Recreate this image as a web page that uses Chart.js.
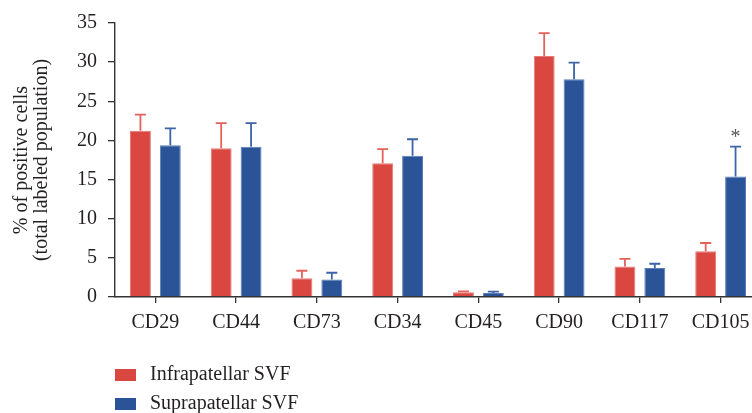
<!DOCTYPE html>
<html>
<head>
<meta charset="utf-8">
<script src="https://cdn.jsdelivr.net/npm/chart.js@4/dist/chart.umd.min.js"></script>
<style>
  html, body { margin: 0; padding: 0; background: #fff; overflow: hidden; }
  #chart-wrap { width: 752px; height: 413px; overflow: hidden; }
</style>
</head>
<body>
<div id="chart-wrap">
  <canvas id="chart-markers" width="770" height="413"></canvas>
</div>
<script>
const markers = ['CD29', 'CD44', 'CD73', 'CD34', 'CD45', 'CD90', 'CD117', 'CD105']
const infra_mean = [21.25, 19.0, 2.4, 17.1, 0.6, 30.8, 3.9, 5.85]
const infra_sem = [2.05, 3.2, 0.95, 1.8, 0.12, 2.9, 0.97, 1.05]
const supra_mean = [19.4, 19.2, 2.25, 18.05, 0.5, 27.8, 3.7, 15.4]
const supra_sem = [2.15, 3.0, 0.85, 2.1, 0.18, 2.15, 0.55, 3.8]
const significant = ['', '', '', '', '', '', '', '*']  // marks over the suprapatellar bar

const serif = "'Liberation Serif', 'DejaVu Serif', serif"
const text_color = '#231f20'
const axis_color = '#333333'

// upward error bars with caps, one per bar
const error_bars = {
  id: 'error_bars',
  afterDatasetsDraw(chart) {
    const ctx = chart.ctx
    const y = chart.scales.y
    chart.data.datasets.forEach((ds, i) => {
      const meta = chart.getDatasetMeta(i)
      ctx.save()
      ctx.strokeStyle = ds.errorColor
      ctx.lineWidth = 1.8
      meta.data.forEach((bar, j) => {
        const top = y.getPixelForValue(ds.data[j] + ds.sem[j])
        ctx.beginPath()
        ctx.moveTo(bar.x, bar.y)
        ctx.lineTo(bar.x, top)
        ctx.moveTo(bar.x - 5.5, top)
        ctx.lineTo(bar.x + 5.5, top)
        ctx.stroke()
        if (ds.marks && ds.marks[j]) {
          ctx.fillStyle = '#555'
          ctx.font = "20px " + serif
          ctx.textAlign = 'center'
          ctx.textBaseline = 'middle'
          ctx.fillText(ds.marks[j], bar.x, top - 9)
        }
      })
      ctx.restore()
    })
  }
}

// vertical legend under the axis
const stacked_legend = {
  id: 'stacked_legend',
  afterDraw(chart) {
    const ctx = chart.ctx
    ctx.save()
    ctx.font = "20px " + serif
    ctx.textBaseline = 'middle'
    ctx.textAlign = 'left'
    chart.data.datasets.forEach((ds, i) => {
      const cy = 375 + i * 29
      ctx.fillStyle = ds.backgroundColor
      ctx.fillRect(115, cy - 6, 21, 12)
      ctx.fillStyle = text_color
      ctx.fillText(ds.label, 150, cy)
    })
    ctx.restore()
  }
}

function make_chart(){
  const canvas = document.getElementById('chart-markers')
  return new Chart(canvas, {
    type: 'bar',
    data: {
      labels: markers,
      datasets: [
        {
          label: 'Infrapatellar SVF',
          data: infra_mean,
          sem: infra_sem,
          backgroundColor: '#da4640',
          borderColor: '#e67a74',
          borderWidth: {top: 1, left: 1, right: 1, bottom: 0},
          errorColor: '#e4625c',
        },
        {
          label: 'Suprapatellar SVF',
          data: supra_mean,
          sem: supra_sem,
          marks: significant,
          backgroundColor: '#2a5398',
          borderColor: '#5a7db8',
          borderWidth: {top: 1, left: 1, right: 1, bottom: 0},
          errorColor: '#3d63a8',
        },
      ]
    },
    options: {
      responsive: false,
      animation: false,
      categoryPercentage: 0.74,
      barPercentage: 0.70,
      layout: {
        padding: {left: 0, right: 9, top: 22, bottom: 0}
      },
      plugins: {
        legend: {display: false},
        tooltip: {enabled: false},
      },
      scales: {
        x: {
          afterFit(scale) { scale.height = 116 },
          grid: {
            offset: false,
            drawOnChartArea: false,
            drawTicks: true,
            tickLength: 6,
            color: axis_color,
            lineWidth: 1.3,
          },
          border: {color: axis_color, width: 1.4},
          ticks: {
            padding: 8,
            color: text_color,
            font: {family: serif, size: 20},
          },
        },
        y: {
          min: 0,
          max: 35,
          afterFit(scale) { scale.width = 115 },
          grid: {
            drawOnChartArea: false,
            drawTicks: true,
            tickLength: 7,
            color: axis_color,
            lineWidth: 1.3,
          },
          border: {color: axis_color, width: 1.4},
          ticks: {
            stepSize: 5,
            padding: 11,
            color: text_color,
            font: {family: serif, size: 20},
          },
          title: {
            display: true,
            text: ['% of positive cells', '(total labeled population)'],
            color: text_color,
            font: {family: serif, size: 20, lineHeight: 1.0},
            padding: {top: 12, bottom: 0},
          },
        }
      },
    },
    plugins: [error_bars, stacked_legend],
  })
}

let chart = make_chart()
</script>
</body>
</html>
